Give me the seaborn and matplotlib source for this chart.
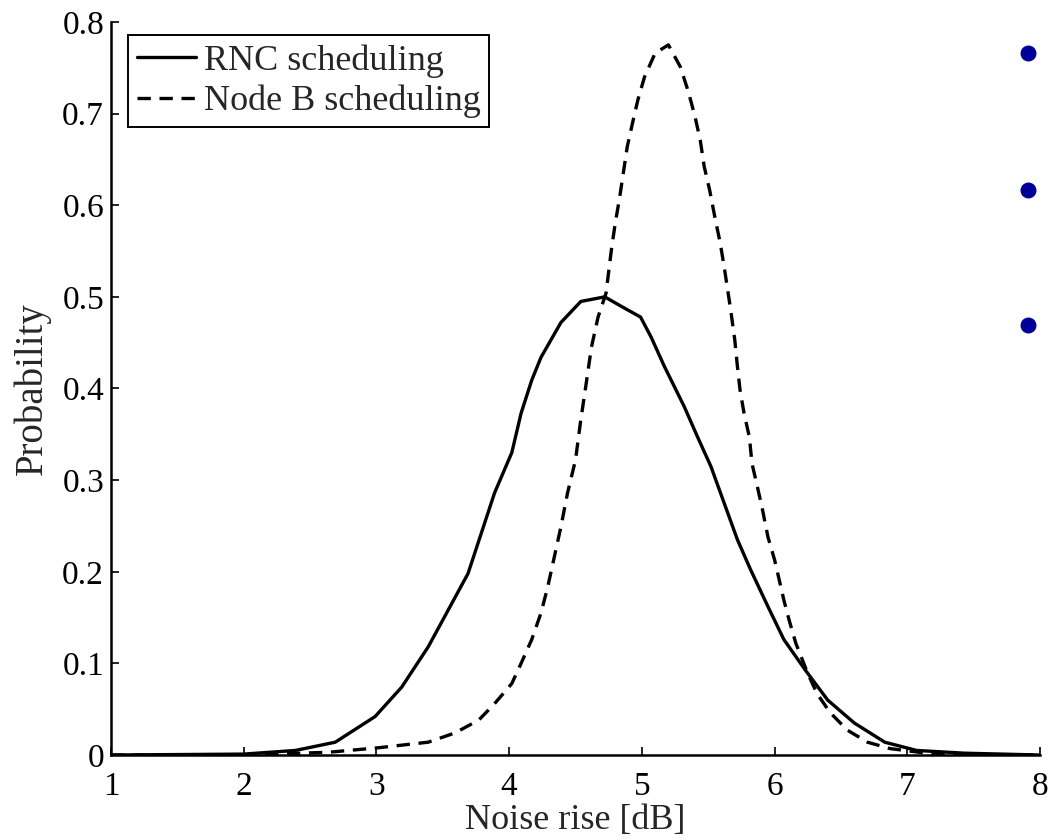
import numpy as np
import matplotlib
matplotlib.use("Agg")
import matplotlib.pyplot as plt
import pandas as pd
import seaborn as sns

# RNC scheduling (solid)
rnc_x = [1.0, 2.0, 2.39, 2.69, 2.99, 3.19, 3.39, 3.54, 3.69, 3.79, 3.89, 4.02, 4.09, 4.17,
         4.24, 4.39, 4.54, 4.72, 4.89, 4.99, 5.07, 5.17, 5.32, 5.42, 5.52, 5.62, 5.72,
         5.82, 5.95, 6.07, 6.23, 6.40, 6.60, 6.83, 7.07, 7.43, 8.0]
rnc_p = [0.0, 0.001, 0.005, 0.014, 0.042, 0.074, 0.118, 0.158, 0.198, 0.242, 0.286, 0.330,
         0.373, 0.409, 0.434, 0.472, 0.495, 0.500, 0.486, 0.478, 0.456, 0.424, 0.380,
         0.347, 0.315, 0.275, 0.235, 0.202, 0.162, 0.126, 0.093, 0.060, 0.035, 0.014,
         0.005, 0.002, 0.0]

# Node B scheduling (dashed)
nodeb_x = [1.0, 2.0, 2.64, 3.02, 3.39, 3.59, 3.77, 3.89, 4.02, 4.09, 4.17, 4.24, 4.29, 4.34,
           4.39, 4.44, 4.50, 4.54, 4.57, 4.62, 4.67, 4.73, 4.77, 4.80, 4.83, 4.86, 4.89,
           4.93, 4.97, 5.02, 5.10, 5.20, 5.29, 5.35, 5.40, 5.44, 5.47, 5.51, 5.55, 5.59,
           5.62, 5.67, 5.70, 5.72, 5.74, 5.77, 5.81, 5.83, 5.87, 5.91, 5.95, 6.00, 6.04,
           6.07, 6.11, 6.16, 6.25, 6.32, 6.42, 6.55, 6.70, 6.87, 7.2, 8.0]
nodeb_p = [0.0, 0.0, 0.003, 0.008, 0.014, 0.024, 0.038, 0.056, 0.078, 0.100, 0.126, 0.155,
           0.183, 0.216, 0.249, 0.286, 0.322, 0.366, 0.395, 0.445, 0.478, 0.504, 0.551,
           0.581, 0.606, 0.635, 0.664, 0.690, 0.715, 0.740, 0.766, 0.775, 0.751, 0.724,
           0.697, 0.671, 0.642, 0.617, 0.587, 0.559, 0.533, 0.485, 0.453, 0.424, 0.398,
           0.373, 0.347, 0.318, 0.293, 0.267, 0.238, 0.213, 0.188, 0.169, 0.147, 0.122,
           0.089, 0.067, 0.046, 0.027, 0.014, 0.007, 0.001, 0.0]

x_ticks = [1, 2, 3, 4, 5, 6, 7, 8]
y_ticks = [0, 0.1, 0.2, 0.3, 0.4, 0.5, 0.6, 0.7, 0.8]
y_labels = ["0", "0.1", "0.2", "0.3", "0.4", "0.5", "0.6", "0.7", "0.8"]
bullet_y = [53, 190, 325]   # slide bullets on the right, pixel rows

sns.set_style("ticks")
plt.rcParams['font.family'] = ['Liberation Serif', 'DejaVu Serif']
plt.rcParams.update({'font.size': 24})

df = pd.concat([
    pd.DataFrame({"x": rnc_x, "p": rnc_p, "scheme": "RNC scheduling"}),
    pd.DataFrame({"x": nodeb_x, "p": nodeb_p, "scheme": "Node B scheduling"}),
])

fig = plt.figure(figsize=(10.5, 8.39), dpi=100)
ax = fig.add_axes([0.1057, 0.1001, 0.8848, 0.8737])

sns.lineplot(data=df, x="x", y="p", style="scheme", color="black", linewidth=2.4,
             dashes={"RNC scheduling": "", "Node B scheduling": (4.0, 2.6)},
             sort=False, ax=ax)

ax.set_xlim(1, 8)
ax.set_ylim(0, 0.8)
ax.set_xticks(x_ticks)
ax.set_yticks(y_ticks)
ax.set_yticklabels(y_labels)
ax.tick_params(direction="in", length=6, width=1.2, labelsize=24, colors="black")
ax.tick_params(axis="x", pad=12)
ax.tick_params(axis="y", pad=5)
for s in ["top", "right"]:
    ax.spines[s].set_visible(False)
for s in ["left", "bottom"]:
    ax.spines[s].set_linewidth(1.8)
    ax.spines[s].set_color("black")
ax.set_xlabel("Noise rise [dB]", fontsize=26, labelpad=1)
ax.set_ylabel("Probability", fontsize=28, labelpad=8)

leg = ax.legend(loc="upper left", bbox_to_anchor=(0.018, 0.982), fontsize=26,
                frameon=True, fancybox=False, edgecolor="black", framealpha=1,
                handlelength=1.65, handletextpad=0.2, borderpad=0.25, labelspacing=0.2,
                borderaxespad=0)
leg.get_frame().set_linewidth(1.4)
for line in leg.get_lines():
    line.set_linewidth(2.4)

# bullet dots from the slide overlay
ov = fig.add_axes([0, 0, 1, 1], facecolor="none")
ov.set_xlim(0, 1050)
ov.set_ylim(839, 0)
ov.axis("off")
ov.scatter([1028] * len(bullet_y), bullet_y, s=110, color="#000099", zorder=5)

fig.savefig("out.png", dpi=100)
